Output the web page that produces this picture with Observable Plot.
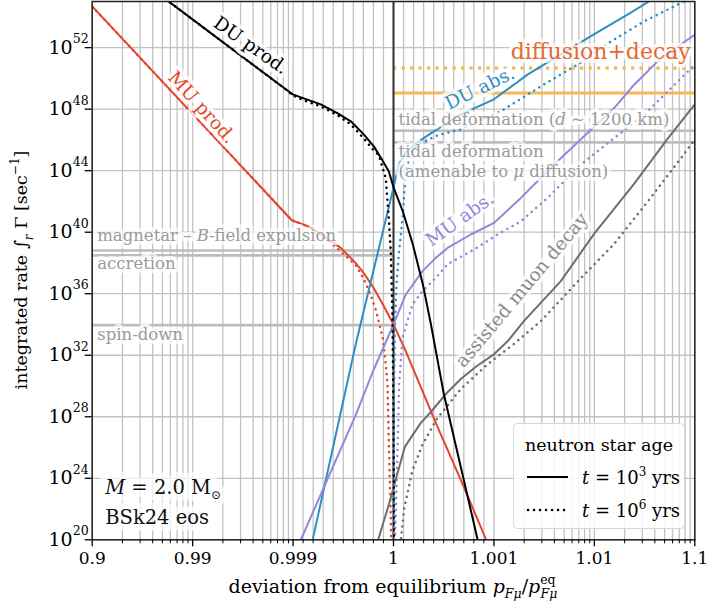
<!DOCTYPE html>
<html><head><meta charset="utf-8">
<script src="https://cdn.jsdelivr.net/npm/d3@7"></script>
<script src="https://cdn.jsdelivr.net/npm/@observablehq/plot@0.6"></script>
<style>body{margin:0;background:#fff}svg{display:block}</style>
</head><body><div id="chart"></div>
<script>
// ---------- tick labels ----------
const xTickValues = [0.9, 0.99, 0.999, 1, 1.001, 1.01, 1.1];
const xTickLabels = ["0.9", "0.99", "0.999", "1", "1.001", "1.01", "1.1"];
const yTickExponents = [20, 24, 28, 32, 36, 40, 44, 48, 52];

// ---------- series: [p_Fmu / p_Fmu^eq, log10(integrated rate / sec^-1)] ----------
const muProd_t3 = [[0.9,54.68],[0.99897,40.78],[0.999146,40.39],[0.999306,39.74],[0.999475,38.98],[0.999624,37.99],[0.999704,37.34],[0.999804,36.36],[0.999893,35.32],[1.0,34.0],[1.000122,32.27],[1.000421,27.6],[1.00067,23.9],[1.000919,20.06],[1.00095,19.6]];
const muProd_t6 = [[0.9,54.68],[0.99897,40.78],[0.999146,40.39],[0.999306,39.74],[0.999505,38.57],[0.999624,37.86],[0.999704,36.95],[0.999774,35.91],[0.999824,34.94],[0.999893,33.12],[0.999923,31.43],[0.99994,30.11],[0.999956,25.78],[0.999973,21.43],[0.999978,19.6]];
const duProd_t3 = [[0.9792,55.39],[0.998817,49.29],[0.998993,48.96],[0.999107,48.70],[0.999276,48.31],[0.999445,47.73],[0.999575,47.21],[0.999704,46.36],[0.999804,45.58],[0.999883,44.74],[0.999953,43.96],[1.000003,42.86],[1.0000926,41.36],[1.000192,39.22],[1.000292,36.62],[1.000372,34.03],[1.000501,29.48],[1.00064,25.58],[1.00084,19.94],[1.000854,19.6]];
const duProd_t6 = [[0.9792,55.39],[0.998817,49.29],[0.998993,48.90],[0.999107,48.57],[0.999276,48.18],[0.999445,47.60],[0.999575,47.01],[0.999704,46.10],[0.999794,45.39],[0.999854,45.0],[0.999923,43.51],[0.999953,40.91],[0.999973,38.77],[0.99999,34.42],[1.0,27.92],[1.000006,19.6]];
const duAbs_t3 = [[0.999185,19.7],[0.9996245,32.73],[1.000003,42.99],[1.0000528,44.42],[1.0001225,45.19],[1.000222,45.78],[1.000372,46.43],[1.00067,47.66],[1.001,48.64],[1.002177,50.26],[1.004637,51.56],[1.00989,52.86],[1.02157,54.16],[1.0349,55.0],[1.046,55.48]];
const duAbs_t6 = [[1.0,19.6],[1.0,25.13],[1.000006,30.13],[1.0000159,34.42],[1.00003,36.62],[1.0000558,38.77],[1.00009,40.91],[1.000108,42.66],[1.0001325,44.29],[1.000182,45.26],[1.000242,45.71],[1.000441,46.30],[1.00067,46.69],[1.001172,47.86],[1.003141,49.61],[1.006855,50.91],[1.0146,52.40],[1.0311,53.70],[1.0779,55.0],[1.1,55.36]];
const muAbs_t3 = [[0.999057,19.7],[0.9996245,28.12],[0.999793,30.91],[1.0,34.0],[1.0001225,35.95],[1.000289,37.47],[1.000421,38.33],[1.000538,38.98],[1.00077,39.85],[1.001,40.60],[1.001854,42.23],[1.003978,44.40],[1.00855,46.45],[1.01575,48.07],[1.0249,49.59],[1.04597,51.32],[1.1,52.84]];
const muAbs_t6 = [[1.000013,19.6],[1.00004,25.78],[1.0000558,30.11],[1.00009,33.14],[1.000189,35.31],[1.000289,36.17],[1.000421,37.03],[1.000538,37.92],[1.000803,38.88],[1.001086,39.85],[1.001854,40.71],[1.00342,42.23],[1.00734,44.40],[1.01575,46.12],[1.03133,47.64],[1.1,50.89]];
const assisted_t3 = [[0.999833,19.7],[0.999956,22.34],[1.0,23.38],[1.0001125,26.04],[1.000272,27.60],[1.000372,28.31],[1.000521,29.48],[1.00067,30.45],[1.00083,31.30],[1.001,32.06],[1.001375,32.92],[1.001985,34.22],[1.004637,36.82],[1.00989,39.87],[1.02474,43.12],[1.05395,46.10],[1.1,48.31]];
const assisted_t6 = [[1.0000687,19.7],[1.000108,22.08],[1.000187,24.48],[1.000287,26.17],[1.000431,27.86],[1.00067,29.81],[1.000939,31.43],[1.001579,32.73],[1.002932,34.22],[1.00734,37.01],[1.01564,39.22],[1.0341,42.01],[1.0727,44.81],[1.1,46.04]];

// ---------- horizontal limits ----------
const limitNames = ["diffusion+decay t3", "diffusion+decay t6", "tidal 1200km", "tidal amenable", "magnetar", "accretion", "spin-down"];
const limitExp  = [49.05, 50.67, 46.60, 45.84, 38.81, 38.49, 33.96];
const limitFrom = [1, 1, 1, 1, 0.9, 0.9, 0.9];
const limitTo   = [1.1, 1.1, 1.1, 1.1, 1, 1, 1];

// ---------- curve labels ----------
const curveLabels = ["DU prod.", "MU prod.", "DU abs.", "MU abs.", "assisted muon decay"];
const curveLabelX = [0.997362, 0.991886, 1.00086, 1.00066, 1.001896];
const curveLabelE = [52.14, 48.12, 49.35, 40.84, 36.23];
const curveLabelAngle = [35, 47.5, -26, -35.5, -50];

// ---------- annotation texts ----------
const annotTexts = ["tidal deformation (d ∼ 1200 km)", "tidal deformation", "(amenable to μ diffusion)", "magnetar – B-field expulsion", "accretion", "spin-down"];
const annotX = [1, 1, 1, 0.9, 0.9, 0.9];
const annotE = [47.32, 45.24, 43.96, 39.74, 37.94, 33.36];

// ---------- model info ----------
const infoTexts = ["M = 2.0 M⊙", "BSk24 eos"];
const infoE = [23.40, 21.45];

// ---------- styles ----------
const FONT = "DejaVu Serif, serif";
const RED = "#e5452c", BLUE = "#2f8dc5", PURPLE = "#9486db", GRAY = "#6e6e6e", BLACK = "#000";
const ORANGE = "#fbb654", ORANGE_TEXT = "#e5692d", LIMIT_GRAY = "#bdbdbd", ANNOT = "#9a9a9a";
const labelColors = [BLACK, RED, BLUE, PURPLE, "#8a8a8a"];
const DOT = "0.1,5.9";

// symmetric log-like axis: linear within ±0.001 of equilibrium, one decade per unit beyond
const U = x => { const d = x - 1, a = Math.abs(d); return a <= 1e-3 ? d / 1e-3 : Math.sign(d) * (1 + Math.log10(a / 1e-3)); };
const Y = e => 10 ** e;

// grid / minor tick positions
const range = (a, b) => d3.range(a, b + 1);
const xMinor = [
  ...range(2, 9).map(k => 1 - 0.1 / k),
  ...range(2, 9).map(k => 1 - 0.01 / k),
  ...range(1, 9).map(k => 0.999 + 0.0001 * k),
  ...range(1, 9).map(k => 1 + 0.0001 * k),
  ...range(2, 9).map(k => 1 + 0.001 * k),
  ...range(2, 9).map(k => 1 + 0.01 * k)
];
const labelByU = new Map(xTickValues.map((v, i) => [U(v), xTickLabels[i]]));

const limits = limitNames.map((n, i) => ({n, e: limitExp[i], from: limitFrom[i], to: limitTo[i]}));
const curveLab = curveLabels.map((t, i) => ({t, x: curveLabelX[i], e: curveLabelE[i], a: curveLabelAngle[i], c: labelColors[i]}));
const annots = annotTexts.map((t, i) => ({t, x: annotX[i], e: annotE[i]}));
const infos = infoTexts.map((t, i) => ({t, x: 0.9, e: infoE[i]}));

const line = (pts, color, dotted, w = 2) => Plot.line(pts, {
  x: d => U(d[0]), y: d => Y(d[1]), stroke: color, strokeWidth: dotted ? 2.5 : w,
  strokeDasharray: dotted ? DOT : null, strokeLinecap: dotted ? "round" : "butt", strokeLinejoin: "round", clip: true
});
// text with a semi-transparent white box-like halo (halo drawn as its own layer)
const boxedText = (data, opts, haloWidth) => [
  Plot.text(data, {...opts, fill: "white", stroke: "white", strokeWidth: haloWidth, strokeLinejoin: "round", opacity: 0.75}),
  Plot.text(data, opts)
];

const plot = Plot.plot({
  width: 707, height: 609,
  marginLeft: 91.7, marginRight: 12.7, marginTop: 1, marginBottom: 69.7,
  style: {fontFamily: FONT, background: "white", color: "black"},
  x: {type: "linear", domain: [-3, 3], axis: null},
  y: {type: "log", domain: [1e20, 1e55], axis: null},
  marks: [
    // grid
    Plot.ruleX([...xMinor, ...xTickValues], {x: U, stroke: "#c2c2c2", strokeWidth: 1.3}),
    Plot.ruleY(yTickExponents, {y: Y, stroke: "#c2c2c2", strokeWidth: 1.3}),
    // limits
    Plot.ruleY(limits.filter(d => !d.n.startsWith("diffusion")), {y: d => Y(d.e), x1: d => U(d.from), x2: d => U(d.to), stroke: LIMIT_GRAY, strokeWidth: 2.6}),
    Plot.ruleY(limits.filter(d => d.n === "diffusion+decay t3"), {y: d => Y(d.e), x1: d => U(d.from), x2: d => U(d.to), stroke: ORANGE, strokeWidth: 3.2}),
    Plot.ruleY(limits.filter(d => d.n === "diffusion+decay t6"), {y: d => Y(d.e), x1: d => U(d.from), x2: d => U(d.to), stroke: ORANGE, strokeWidth: 3.2, strokeDasharray: "3.2,5.3"}),
    // equilibrium
    Plot.ruleX([1], {x: U, stroke: "#333", strokeWidth: 2}),
    // curves
    line(muProd_t3, RED, false), line(muProd_t6, RED, true),
    line(duAbs_t3, BLUE, false), line(duAbs_t6, BLUE, true),
    line(muAbs_t3, PURPLE, false), line(muAbs_t6, PURPLE, true),
    line(assisted_t3, GRAY, false), line(assisted_t6, GRAY, true),
    line(duProd_t3, BLACK, false), line(duProd_t6, BLACK, true),
    // annotation texts
    ...boxedText(annots, {x: d => U(d.x), y: d => Y(d.e), text: "t", dx: 5, textAnchor: "start", fill: ANNOT, fontSize: 16.5}, 8),
    ...boxedText(["diffusion+decay"], {x: U(1.1), y: Y(51.75), text: d => d, dx: -4, textAnchor: "end", fill: ORANGE_TEXT, fontSize: 22}, 8),
    // curve labels
    ...boxedText(curveLab, {x: d => U(d.x), y: d => Y(d.e), text: "t", rotate: "a", fill: "c", fontSize: 18.5}, 8),
    // model info
    ...boxedText(infos, {x: d => U(d.x), y: d => Y(d.e), text: "t", dx: 13, textAnchor: "start", fontSize: 19.5, fill: "#111"}, 14),
    // frame & axes
    Plot.frame({stroke: "#222", strokeWidth: 1.5}),
    Plot.axisX(xMinor.map(U), {anchor: "bottom", tickSize: 4, tickFormat: () => "", label: null, strokeWidth: 1}),
    Plot.axisX(xTickValues.map(U), {anchor: "bottom", tickSize: 7, tickPadding: 5, tickFormat: u => labelByU.get(u), fontSize: 17, label: null, strokeWidth: 1.3}),
    Plot.axisY(yTickExponents.map(Y), {anchor: "left", tickSize: 7, tickPadding: 12.5, tickFormat: () => "10", fontSize: 19, label: null, strokeWidth: 1.3}),
    Plot.text(yTickExponents, {frameAnchor: "left", y: Y, text: d => String(d), dx: -3.5, dy: -8.5, textAnchor: "end", fontSize: 12.5})
  ]
});

document.getElementById("chart").appendChild(plot);
const svg = d3.select(plot);

// rich text (italics, sub/superscripts)
const rich = new Map([
  ["tidal deformation (d ∼ 1200 km)", 'tidal deformation (<tspan font-style="italic">d</tspan> ∼ 1200 km)'],
  ["(amenable to μ diffusion)", '(amenable to <tspan font-style="italic">μ</tspan> diffusion)'],
  ["magnetar – B-field expulsion", 'magnetar – <tspan font-style="italic">B</tspan>-field expulsion'],
  ["M = 2.0 M⊙", '<tspan font-style="italic">M</tspan> = 2.0 M<tspan font-size="12" dy="5">⊙</tspan>']
]);
svg.selectAll("text").each(function () {
  const t = this.textContent;
  if (rich.has(t)) this.innerHTML = rich.get(t);
});

// axis titles
svg.append("text")
  .attr("transform", "translate(27,270) rotate(-90)")
  .attr("text-anchor", "middle").attr("font-family", FONT).attr("font-size", 17.5).attr("fill", "black")
  .html('integrated rate ∫<tspan font-size="12" font-style="italic" dy="6">r</tspan><tspan dy="-6"> Γ [sec</tspan><tspan font-size="12" dy="-8">−1</tspan><tspan dy="8">]</tspan>');
svg.append("text")
  .attr("x", 393).attr("y", 593)
  .attr("text-anchor", "middle").attr("font-family", FONT).attr("font-size", 19).attr("fill", "black")
  .html('deviation from equilibrium <tspan font-style="italic">p</tspan><tspan font-size="12.5" font-style="italic" dy="5">Fμ</tspan><tspan dy="-5">/</tspan><tspan font-style="italic">p</tspan><tspan font-size="12.5" dy="-9">eq</tspan><tspan font-size="12.5" font-style="italic" dx="-15" dy="14">Fμ</tspan>');

// legend
const lg = svg.append("g").attr("font-family", FONT).attr("fill", "black").attr("text-anchor", "start");
lg.append("rect").attr("x", 513.5).attr("y", 423.5).attr("width", 171).attr("height", 105).attr("rx", 4)
  .attr("fill", "white").attr("fill-opacity", 0.85).attr("stroke", "#d6d6d6");
lg.append("text").attr("x", 599).attr("y", 451).attr("text-anchor", "middle").attr("font-size", 17.5).text("neutron star age");
lg.append("line").attr("x1", 527).attr("x2", 568).attr("y1", 477).attr("y2", 477).attr("stroke", "black").attr("stroke-width", 2.2);
lg.append("line").attr("x1", 528).attr("x2", 568).attr("y1", 510).attr("y2", 510).attr("stroke", "black").attr("stroke-width", 2.5).attr("stroke-linecap", "round").attr("stroke-dasharray", DOT);
lg.append("text").attr("x", 582).attr("y", 484).attr("font-size", 18).attr("text-anchor", "start")
  .html('<tspan font-style="italic">t</tspan> = 10<tspan font-size="12" dy="-8">3</tspan><tspan dy="8"> yrs</tspan>');
lg.append("text").attr("x", 582).attr("y", 517).attr("font-size", 18).attr("text-anchor", "start")
  .html('<tspan font-style="italic">t</tspan> = 10<tspan font-size="12" dy="-8">6</tspan><tspan dy="8"> yrs</tspan>');
</script>
</body></html>
